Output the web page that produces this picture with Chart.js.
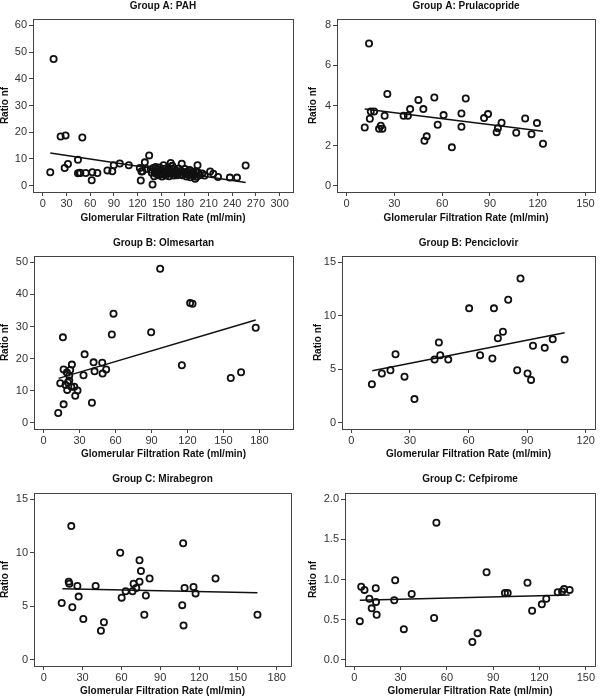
<!DOCTYPE html>
<html>
<head>
<meta charset="utf-8">
<script src="https://cdn.jsdelivr.net/npm/chart.js@4/dist/chart.umd.min.js"></script>
<style>
html,body{margin:0;padding:0;background:#fff;}
#wrap{position:relative;width:600px;height:697px;overflow:hidden;background:#fff;}
canvas{position:absolute;}
</style>
</head>
<body>
<div id="wrap">
<canvas id="c1" width="300" height="230" style="left:0px;top:0px;width:300px;height:230px"></canvas>
<canvas id="c2" width="300" height="230" style="left:300px;top:0px;width:300px;height:230px"></canvas>
<canvas id="c3" width="300" height="232" style="left:0px;top:230px;width:300px;height:232px"></canvas>
<canvas id="c4" width="300" height="232" style="left:300px;top:230px;width:300px;height:232px"></canvas>
<canvas id="c5" width="300" height="235" style="left:0px;top:462px;width:300px;height:235px"></canvas>
<canvas id="c6" width="300" height="235" style="left:300px;top:462px;width:300px;height:235px"></canvas>
</div>
<script>
// ---------- DATA ----------
const xAxisTitle = 'Glomerular Filtration Rate (ml/min)';
const yAxisTitle = 'Ratio nf';

// Group A: PAH
const pahGfr = [9.4,13.6,22.5,28.8,27.6,31.8,44.5,44.5,46.6,47.5,50.0,54.3,61.9,62.7,69.1,81.8,88.0,89.8,97.5,108.9,122.9,124.1,125.0,126.3,129.2,131.4,134.7,136.9,139.0,138,140,141,142,143,144,145,146,147,148,149,150,151,152,153,154,155,156,157,158,159,160,161,162,163,164,165,166,167,168,169,170,171,172,174,175,176,177,178,180,181,182,183,185,186,187,188,190,191,192,193,194,195,196,197,199,202,205,212,216,222,237,246,257];
const pahRatio = [5.0,47.4,18.4,18.8,6.6,8.1,9.7,4.6,4.8,4.7,18.0,4.7,2.0,5.0,4.7,5.7,5.4,7.6,8.3,7.6,6.6,1.9,5.3,5.4,8.7,6.2,11.3,6.0,0.4,4.8,6.6,3.5,5.2,7.0,4.3,6.1,5.4,3.9,6.8,4.6,5.7,3.4,5.0,7.6,4.2,6.3,3.8,5.4,4.7,6.8,3.5,5.9,8.5,4.4,7.4,5.2,3.8,6.1,4.6,5.5,3.9,4.8,6.4,4.2,5.5,8.2,3.9,5.0,6.2,4.4,3.4,5.3,4.0,5.8,3.1,4.6,5.2,3.7,4.3,2.6,5.4,3.3,7.6,4.8,3.9,4.5,3.8,5.3,4.4,3.2,3.0,3.0,7.5];
const pahFitGfr = [9.4, 257];
const pahFitRatio = [12.2, 1.2];
const pahXTicks = [0,30,60,90,120,150,180,210,240,270,300];
const pahYTicks = [0,10,20,30,40,50,60];

// Group A: Prulacopride
const pruGfr = [11.4,14.1,14.6,15.2,17.3,20.4,21.5,22.5,23.9,25.6,35.8,38.5,39.9,45.1,48.2,48.9,50.3,55.1,57.2,60.9,66.1,72.1,72.1,74.8,86.3,88.8,94.2,95.0,97.3,106.5,112.1,116.1,119.5,123.3];
const pruRatio = [2.90,7.10,3.34,3.70,3.70,2.84,2.99,2.84,3.49,4.58,3.49,3.49,3.82,4.28,3.82,2.24,2.46,4.40,3.04,3.52,1.91,3.60,2.94,4.35,3.37,3.57,2.67,2.87,3.14,2.64,3.35,2.57,3.12,2.09];
const pruFitGfr = [11.4, 123.3];
const pruFitRatio = [3.83, 2.71];
const pruXTicks = [0,30,60,90,120,150];
const pruYTicks = [0,2,4,6,8];

// Group B: Olmesartan
const olmGfr = [12.2,13.9,16.1,16.7,16.7,18.3,19.4,19.7,20.3,21.4,21.4,22.2,23.1,23.6,25.6,26.4,28.3,33.3,34.2,40.3,41.7,42.5,48.9,49.2,52.2,56.9,58.3,89.7,97.2,115.3,122.2,124.2,156.1,164.7,176.9];
const olmRatio = [3.0,12.3,26.6,5.7,16.6,11.7,15.6,10.2,12.5,13.1,14.7,16.4,11.2,18.1,11.2,8.4,10.0,14.8,21.3,6.2,18.8,16.0,18.7,15.3,16.6,27.5,34.0,28.2,48.0,17.9,37.3,37.1,13.9,15.7,29.6];
const olmFitGfr = [12.5, 176.9];
const olmFitRatio = [13.8, 32.0];
const olmXTicks = [0,30,60,90,120,150,180];
const olmYTicks = [0,10,20,30,40,50];

// Group B: Penciclovir
const penGfr = [10.5,15.6,20.0,22.6,27.2,32.3,42.6,44.8,45.5,49.6,60.3,65.9,72.2,73.0,75.0,77.6,80.3,84.9,86.6,90.2,92.0,93.0,99.0,103.1,109.2];
const penRatio = [3.6,4.6,4.9,6.4,4.3,2.2,5.9,7.5,6.3,5.9,10.7,6.3,6.0,10.7,7.9,8.5,11.5,4.9,13.5,4.6,4.0,7.2,7.0,7.8,5.9];
const penFitGfr = [10.7, 109.2];
const penFitRatio = [4.86, 8.42];
const penXTicks = [0,30,60,90,120];
const penYTicks = [0,5,10,15];

// Group C: Mirabegron
const mirGfr = [13.9,19.3,19.8,21.3,22.1,26.0,27.0,30.6,40.1,44.2,46.5,59.1,60.2,63.3,68.6,69.4,71.5,74.0,74.0,75.1,77.7,78.9,81.8,107.0,107.7,108.0,108.8,115.7,117.3,132.7,165.1];
const mirRatio = [5.3,7.3,7.1,12.5,4.9,6.9,5.9,3.8,6.9,2.7,3.5,10.0,5.8,6.4,6.4,7.1,6.7,9.3,7.3,8.3,4.2,6.0,7.6,5.1,10.9,3.2,6.7,6.8,6.2,7.6,4.2];
const mirFitGfr = [14.4, 165.1];
const mirFitRatio = [6.64, 6.27];
const mirXTicks = [0,30,60,90,120,150,180];
const mirYTicks = [0,5,10,15];

// Group C: Cefpirome
const cefGfr = [3.6,4.5,6.6,9.8,11.3,13.9,14.1,14.5,25.9,26.5,32.1,37.2,51.7,53.2,76.5,79.9,85.7,97.6,99.4,112.2,115.2,121.5,124.4,131.8,134.6,135.9,139.5];
const cefRatio = [0.48,0.91,0.87,0.76,0.64,0.89,0.72,0.56,0.74,0.99,0.38,0.82,0.52,1.71,0.22,0.33,1.09,0.83,0.83,0.96,0.61,0.69,0.76,0.84,0.85,0.88,0.87];
const cefFitGfr = [3.6, 139.5];
const cefFitRatio = [0.74, 0.807];
const cefXTicks = [0,30,60,90,120,150];
const cefYTicks = [0,0.5,1,1.5,2];
const cefYTickLabels = ['0.0','0.5','1.0','1.5','2.0'];

// ---------- LAYOUT / STYLE ----------
const FONT = '"Liberation Sans", Arial, Helvetica, sans-serif';
Chart.defaults.font.family = FONT;

const panels = [
  {id:'c1', title:'Group A: PAH', gfr:pahGfr, ratio:pahRatio, fx:pahFitGfr, fy:pahFitRatio, xt:pahXTicks, yt:pahYTicks, yl:null,
   xr:[-12.5,317], yr:[-2.4,62.4], area:{l:33,r:293,t:19,b:192}, titleY:6.7, xTitleOff:11.7, yTitleX:5.7},
  {id:'c2', title:'Group A: Prulacopride', gfr:pruGfr, ratio:pruRatio, fx:pruFitGfr, fy:pruFitRatio, xt:pruXTicks, yt:pruYTicks, yl:null,
   xr:[-6,156], yr:[-0.32,8.32], area:{l:37,r:297,t:19,b:192}, titleY:6.7, xTitleOff:11.7, yTitleX:13.3},
  {id:'c3', title:'Group B: Olmesartan', gfr:olmGfr, ratio:olmRatio, fx:olmFitGfr, fy:olmFitRatio, xt:olmXTicks, yt:olmYTicks, yl:null,
   xr:[-8,208], yr:[-2,52], area:{l:34,r:293,t:26,b:199}, titleY:13.3, xTitleOff:8, yTitleX:5.7},
  {id:'c4', title:'Group B: Penciclovir', gfr:penGfr, ratio:penRatio, fx:penFitGfr, fy:penFitRatio, xt:penXTicks, yt:penYTicks, yl:null,
   xr:[-4.8,124.8], yr:[-0.6,15.6], area:{l:42,r:297,t:26,b:199}, titleY:13.3, xTitleOff:8, yTitleX:18.3},
  {id:'c5', title:'Group C: Mirabegron', gfr:mirGfr, ratio:mirRatio, fx:mirFitGfr, fy:mirFitRatio, xt:mirXTicks, yt:mirYTicks, yl:null,
   xr:[-7.5,191], yr:[-0.6,15.6], area:{l:34,r:291,t:31,b:204}, titleY:17.3, xTitleOff:6, yTitleX:5.2},
  {id:'c6', title:'Group C: Cefpirome', gfr:cefGfr, ratio:cefRatio, fx:cefFitGfr, fy:cefFitRatio, xt:cefXTicks, yt:cefYTicks, yl:cefYTickLabels,
   xr:[-6,156], yr:[-0.08,2.08], area:{l:45,r:298,t:31,b:204}, titleY:17.3, xTitleOff:6, yTitleX:13.3}
];

const framePlugin = {
  id:'frame',
  afterDatasetsDraw(chart){
    const {ctx, chartArea:a} = chart;
    ctx.save();
    ctx.strokeStyle = '#444';
    ctx.lineWidth = 1;
    const l = Math.round(a.left), t = Math.round(a.top), r = Math.round(a.right), b = Math.round(a.bottom);
    ctx.strokeRect(l + 0.5, t + 0.5, r - l, b - t);
    ctx.restore();
  }
};

function makeChart(p){
  const cv = document.getElementById(p.id);
  const W = cv.width, H = cv.height;
  const tickFont = {family:FONT, size:11};
  const titleFont = {family:FONT, size:10, weight:'bold', lineHeight:1.2};
  new Chart(cv, {
    type:'scatter',
    data:{datasets:[
      {type:'scatter', data:p.gfr.map((x,i)=>({x:x, y:p.ratio[i]})), pointRadius:3.1, pointHoverRadius:3.1,
       borderWidth:1.8, borderColor:'#111', backgroundColor:'rgba(0,0,0,0)', order:2},
      {type:'line', data:p.fx.map((x,i)=>({x:x, y:p.fy[i]})), borderColor:'#111', borderWidth:1.5,
       pointRadius:0, fill:false, showLine:true, order:1}
    ]},
    options:{
      responsive:false, animation:false, devicePixelRatio:1,
      layout:{padding:{left:0, right:W - p.area.r, top:0, bottom:0}},
      plugins:{
        legend:{display:false}, tooltip:{enabled:false},
        title:{display:true, text:p.title, fullSize:false, color:'#111', font:titleFont,
               padding:{top:p.titleY - 6, bottom:p.area.t - 12 - (p.titleY - 6)}}
      },
      scales:{
        x:{type:'linear', position:'bottom', min:p.xr[0], max:p.xr[1],
           afterFit:s=>{ s.height = H - p.area.b; },
           afterBuildTicks:s=>{ s.ticks = p.xt.map(v=>({value:v})); },
           ticks:{autoSkip:false, maxRotation:0, minRotation:0, padding:1, color:'#333', font:tickFont,
                  callback:(v)=>String(v)},
           grid:{drawOnChartArea:false, drawTicks:true, tickLength:4, color:'#444', lineWidth:1},
           border:{display:false},
           title:{display:true, text:xAxisTitle, color:'#111', font:titleFont, padding:{top:0, bottom:p.xTitleOff - 6}}},
        y:{type:'linear', position:'left', min:p.yr[0], max:p.yr[1],
           afterFit:s=>{ s.width = p.area.l; },
           afterBuildTicks:s=>{ s.ticks = p.yt.map(v=>({value:v})); },
           ticks:{autoSkip:false, padding:2, color:'#333', font:tickFont,
                  callback:(v,i)=> p.yl ? p.yl[i] : String(v)},
           grid:{drawOnChartArea:false, drawTicks:true, tickLength:4, color:'#444', lineWidth:1},
           border:{display:false},
           title:{display:true, text:yAxisTitle, color:'#111', font:titleFont, padding:{top:p.yTitleX - 6, bottom:0}}}
      }
    },
    plugins:[framePlugin]
  });
}
panels.forEach(makeChart);
</script>
</body>
</html>
